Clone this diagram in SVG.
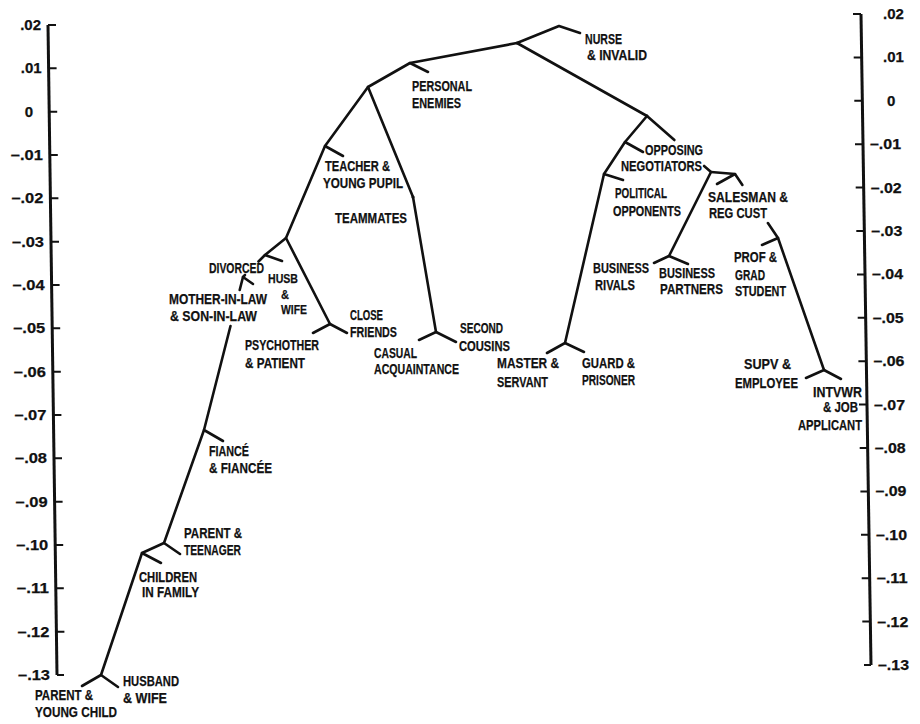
<svg xmlns="http://www.w3.org/2000/svg" width="920" height="724" viewBox="0 0 920 724">
<style>
.t{font-family:"Liberation Sans",Arial,sans-serif;font-weight:bold;font-size:15px;fill:#111;stroke:#111;stroke-width:0.25}
.s{font-size:13.5px}
.e{stroke:#111;stroke-width:2.6;stroke-linecap:round;stroke-linejoin:round;fill:none}
.ax{stroke:#111;stroke-width:3;fill:none}
.tk{stroke:#111;stroke-width:2;fill:none}
</style>
<rect width="920" height="724" fill="#fff"/>
<g id="left-axis">
<path class="ax" d="M48,25 L57,675"/>
<path class="tk" d="M48,25h8 M48.6,68.3h8 M49.2,111.7h8 M49.8,155h8 M50.4,198.3h8 M51,241.7h8 M51.6,285h8 M52.2,328.3h8 M52.8,371.7h8 M53.4,415h8 M54,458.3h8 M54.6,501.7h8 M55.2,545h8 M55.8,588.3h8 M56.4,631.7h8 M57,675h7"/>
<g class="t" text-anchor="end">
<text x="41" y="30">.02</text>
<text x="41.6" y="73.3">.01</text>
<text x="33" y="116.7">0</text>
<text x="42.8" y="160" textLength="32" lengthAdjust="spacingAndGlyphs">–.01</text>
<text x="43.4" y="203.3" textLength="32" lengthAdjust="spacingAndGlyphs">–.02</text>
<text x="44" y="246.7" textLength="32" lengthAdjust="spacingAndGlyphs">–.03</text>
<text x="44.6" y="290" textLength="32" lengthAdjust="spacingAndGlyphs">–.04</text>
<text x="45.2" y="333.3" textLength="32" lengthAdjust="spacingAndGlyphs">–.05</text>
<text x="45.8" y="376.7" textLength="32" lengthAdjust="spacingAndGlyphs">–.06</text>
<text x="46.4" y="420" textLength="32" lengthAdjust="spacingAndGlyphs">–.07</text>
<text x="47" y="463.3" textLength="32" lengthAdjust="spacingAndGlyphs">–.08</text>
<text x="47.6" y="506.7" textLength="32" lengthAdjust="spacingAndGlyphs">–.09</text>
<text x="48.2" y="550" textLength="32" lengthAdjust="spacingAndGlyphs">–.10</text>
<text x="48.8" y="593.3" textLength="32" lengthAdjust="spacingAndGlyphs">–.11</text>
<text x="49.4" y="636.7" textLength="32" lengthAdjust="spacingAndGlyphs">–.12</text>
<text x="50" y="680" textLength="32" lengthAdjust="spacingAndGlyphs">–.13</text>
</g>
</g>
<g id="right-axis">
<path class="ax" d="M861,14 L871,665"/>
<path class="tk" d="M853,14h8 M853.7,57.4h8 M854.3,100.8h8 M855,144.2h8 M855.7,187.6h8 M856.3,231h8 M857,274.4h8 M857.7,317.8h8 M858.4,361.2h8 M859,404.6h8 M859.7,448h8 M860.4,491.4h8 M861,534.8h8 M861.7,578.2h8 M862.3,621.6h8 M864,665h7"/>
<g class="t">
<text x="883" y="19">.02</text>
<text x="883" y="62.4">.01</text>
<text x="887" y="105.8">0</text>
<text x="870" y="149.2" textLength="31" lengthAdjust="spacingAndGlyphs">–.01</text>
<text x="870.7" y="192.6" textLength="31" lengthAdjust="spacingAndGlyphs">–.02</text>
<text x="871.3" y="236" textLength="31" lengthAdjust="spacingAndGlyphs">–.03</text>
<text x="872" y="279.4" textLength="31" lengthAdjust="spacingAndGlyphs">–.04</text>
<text x="872.7" y="322.8" textLength="31" lengthAdjust="spacingAndGlyphs">–.05</text>
<text x="873.4" y="366.2" textLength="31" lengthAdjust="spacingAndGlyphs">–.06</text>
<text x="874" y="409.6" textLength="31" lengthAdjust="spacingAndGlyphs">–.07</text>
<text x="874.7" y="453" textLength="31" lengthAdjust="spacingAndGlyphs">–.08</text>
<text x="875.4" y="496.4" textLength="31" lengthAdjust="spacingAndGlyphs">–.09</text>
<text x="876" y="539.8" textLength="31" lengthAdjust="spacingAndGlyphs">–.10</text>
<text x="876.7" y="583.2" textLength="31" lengthAdjust="spacingAndGlyphs">–.11</text>
<text x="877.3" y="626.6" textLength="31" lengthAdjust="spacingAndGlyphs">–.12</text>
<text x="878" y="670" textLength="31" lengthAdjust="spacingAndGlyphs">–.13</text>
</g>
</g>
<g id="connectors" class="e">
<polyline points="517,43 559,26 580,33"/>
<polyline points="517,43 410,63 428,72"/>
<polyline points="410,63 368,87 325,146 343,156"/>
<polyline points="325,146 286,238 265,255 258.5,261.5"/>
<line x1="265" y1="255" x2="282" y2="261"/>
<polyline points="245,275 243,277 239.7,290"/>
<line x1="243" y1="277" x2="253" y2="284"/>
<polyline points="230.5,326 204,430 223,441"/>
<polyline points="204,430 164,543 180,554"/>
<polyline points="164,543 142,553 161,563"/>
<polyline points="142,553 101,675 82,686"/>
<line x1="101" y1="675" x2="118" y2="687"/>
<polyline points="286,238 330,324 313,333"/>
<line x1="330" y1="324" x2="347" y2="333"/>
<polyline points="368,87 413,197 436,332 419,340"/>
<line x1="436" y1="332" x2="456" y2="342"/>
<circle cx="413" cy="197" r="1.6" fill="#111" stroke="none"/>
<line x1="517" y1="43" x2="647" y2="116"/>
<polyline points="647,116 625,142 643,152"/>
<polyline points="625,142 604,174 623,180"/>
<polyline points="604,174 565,343 547,353"/>
<line x1="565" y1="343" x2="584" y2="352"/>
<line x1="647" y1="116" x2="674.4" y2="140"/>
<polyline points="704.1,166 711,172 669,256 654,263"/>
<line x1="669" y1="256" x2="688" y2="264"/>
<polyline points="711,172 735,174 717,184"/>
<line x1="735" y1="174" x2="742.4" y2="185"/>
<polyline points="767.9,223 778,238 762,245"/>
<polyline points="778,238 824,370 806,378"/>
<line x1="824" y1="370" x2="841" y2="379"/>
</g>
<g class="t">
<g id="nurse-invalid"><text x="585" y="44" textLength="37" lengthAdjust="spacingAndGlyphs">NURSE</text><text x="587" y="60" textLength="60" lengthAdjust="spacingAndGlyphs">&amp; INVALID</text></g>
<g id="personal-enemies"><text x="412" y="91" textLength="60" lengthAdjust="spacingAndGlyphs">PERSONAL</text><text x="412" y="108" textLength="49" lengthAdjust="spacingAndGlyphs">ENEMIES</text></g>
<g id="teacher-pupil"><text x="325" y="171" textLength="65" lengthAdjust="spacingAndGlyphs">TEACHER &amp;</text><text x="323" y="188" textLength="80" lengthAdjust="spacingAndGlyphs">YOUNG PUPIL</text></g>
<g id="teammates"><text x="335" y="223" textLength="72" lengthAdjust="spacingAndGlyphs">TEAMMATES</text></g>
<g id="divorced"><text x="209" y="273" textLength="55" lengthAdjust="spacingAndGlyphs">DIVORCED</text></g>
<g id="husb-wife" class="s"><text x="268" y="283" textLength="30" lengthAdjust="spacingAndGlyphs">HUSB</text><text x="281" y="299" textLength="8" lengthAdjust="spacingAndGlyphs">&amp;</text><text x="281" y="314" textLength="26" lengthAdjust="spacingAndGlyphs">WIFE</text></g>
<g id="mother-son-in-law"><text x="169" y="304" textLength="98" lengthAdjust="spacingAndGlyphs">MOTHER-IN-LAW</text><text x="170" y="321" textLength="87" lengthAdjust="spacingAndGlyphs">&amp; SON-IN-LAW</text></g>
<g id="close-friends"><text x="350" y="320" textLength="33" lengthAdjust="spacingAndGlyphs">CLOSE</text><text x="350" y="337" textLength="47" lengthAdjust="spacingAndGlyphs">FRIENDS</text></g>
<g id="psychother-patient"><text x="245" y="350" textLength="74" lengthAdjust="spacingAndGlyphs">PSYCHOTHER</text><text x="245" y="368" textLength="60" lengthAdjust="spacingAndGlyphs">&amp; PATIENT</text></g>
<g id="second-cousins"><text x="460" y="333" textLength="43" lengthAdjust="spacingAndGlyphs">SECOND</text><text x="459" y="351" textLength="51" lengthAdjust="spacingAndGlyphs">COUSINS</text></g>
<g id="casual-acquaintance"><text x="374" y="358" textLength="43" lengthAdjust="spacingAndGlyphs">CASUAL</text><text x="374" y="374" textLength="85" lengthAdjust="spacingAndGlyphs">ACQUAINTANCE</text></g>
<g id="master-servant"><text x="497" y="368" textLength="62" lengthAdjust="spacingAndGlyphs">MASTER &amp;</text><text x="497" y="387" textLength="51" lengthAdjust="spacingAndGlyphs">SERVANT</text></g>
<g id="guard-prisoner"><text x="582" y="368" textLength="53" lengthAdjust="spacingAndGlyphs">GUARD &amp;</text><text x="582" y="385" textLength="53" lengthAdjust="spacingAndGlyphs">PRISONER</text></g>
<g id="fiance-fiancee"><text x="209" y="456" textLength="40" lengthAdjust="spacingAndGlyphs">FIANCÉ</text><text x="209" y="473" textLength="63" lengthAdjust="spacingAndGlyphs">&amp; FIANCÉE</text></g>
<g id="parent-teenager"><text x="184" y="538" textLength="58" lengthAdjust="spacingAndGlyphs">PARENT &amp;</text><text x="184" y="555" textLength="57" lengthAdjust="spacingAndGlyphs">TEENAGER</text></g>
<g id="children-family"><text x="139" y="582" textLength="58" lengthAdjust="spacingAndGlyphs">CHILDREN</text><text x="142" y="597" textLength="57" lengthAdjust="spacingAndGlyphs">IN FAMILY</text></g>
<g id="husband-wife"><text x="123" y="686" textLength="56" lengthAdjust="spacingAndGlyphs">HUSBAND</text><text x="123" y="703" textLength="44" lengthAdjust="spacingAndGlyphs">&amp; WIFE</text></g>
<g id="parent-young-child"><text x="35" y="700" textLength="58" lengthAdjust="spacingAndGlyphs">PARENT &amp;</text><text x="35" y="717" textLength="82" lengthAdjust="spacingAndGlyphs">YOUNG CHILD</text></g>
<g id="opposing-negotiators"><text x="645" y="155" textLength="58" lengthAdjust="spacingAndGlyphs">OPPOSING</text><text x="621" y="171" textLength="81" lengthAdjust="spacingAndGlyphs">NEGOTIATORS</text></g>
<g id="political-opponents"><text x="615" y="198" textLength="52" lengthAdjust="spacingAndGlyphs">POLITICAL</text><text x="613" y="216" textLength="68" lengthAdjust="spacingAndGlyphs">OPPONENTS</text></g>
<g id="salesman-cust"><text x="708" y="202" textLength="80" lengthAdjust="spacingAndGlyphs">SALESMAN &amp;</text><text x="709" y="218" textLength="58" lengthAdjust="spacingAndGlyphs">REG CUST</text></g>
<g id="business-rivals"><text x="593" y="273" textLength="56" lengthAdjust="spacingAndGlyphs">BUSINESS</text><text x="595" y="290" textLength="40" lengthAdjust="spacingAndGlyphs">RIVALS</text></g>
<g id="business-partners"><text x="659" y="278" textLength="56" lengthAdjust="spacingAndGlyphs">BUSINESS</text><text x="660" y="294" textLength="63" lengthAdjust="spacingAndGlyphs">PARTNERS</text></g>
<g id="prof-grad"><text x="734" y="262" textLength="43" lengthAdjust="spacingAndGlyphs">PROF &amp;</text><text x="735" y="280" textLength="30" lengthAdjust="spacingAndGlyphs">GRAD</text><text x="735" y="296" textLength="51" lengthAdjust="spacingAndGlyphs">STUDENT</text></g>
<g id="supv-employee"><text x="744" y="369" textLength="47" lengthAdjust="spacingAndGlyphs">SUPV &amp;</text><text x="735" y="388" textLength="63" lengthAdjust="spacingAndGlyphs">EMPLOYEE</text></g>
<g id="intvwr-applicant"><text x="813" y="397" textLength="49" lengthAdjust="spacingAndGlyphs">INTVWR</text><text x="823" y="412" textLength="35" lengthAdjust="spacingAndGlyphs">&amp; JOB</text><text x="798" y="430" textLength="64" lengthAdjust="spacingAndGlyphs">APPLICANT</text></g>
</g>
</svg>
